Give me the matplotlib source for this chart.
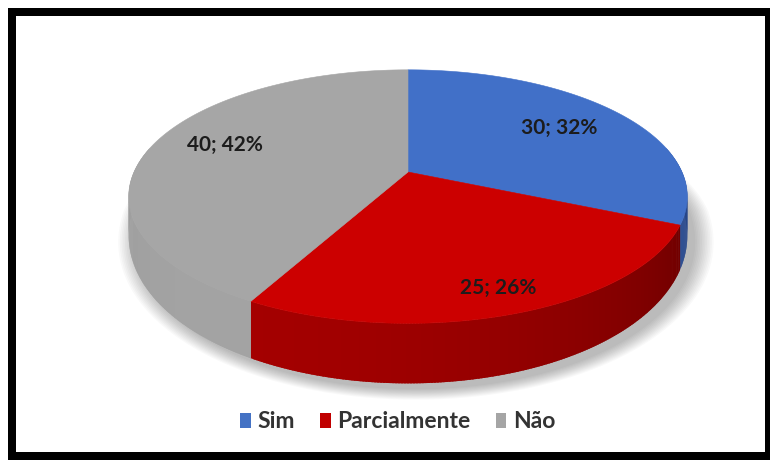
"""
3D-style pie (Sim / Parcialmente / Não) redrawn with plain matplotlib patches.
"""

import numpy as np
import matplotlib.pyplot as plt
from matplotlib.colors import to_rgb
from matplotlib.patches import Patch, Polygon, Rectangle

categories = ["Sim", "Parcialmente", "Não"]
values = [30, 25, 40]

top_colors = ["#4170c8", "#cc0000", "#a6a6a6"]
side_light = ["#3a62b0", "#a40000", "#a3a3a3"]
side_dark = ["#1f3c7c", "#500000", "#7c7c7c"]
legend_colors = ["#4472c4", "#c00000", "#a5a5a5"]

# layout, in pixels of the 770x461 output
W, H = 770, 461
CX, CY = 408, 172          # where the slices meet
SX, SY, PERSP = 274, 122, 0.194
label_px = [(559, 128), (498, 288), (225, 145)]


def project(t_deg):
    # point on the rim of a tilted disc, seen in perspective
    t = np.radians(t_deg)
    x, y = np.cos(t), np.sin(t)
    w = 1 + PERSP * y
    return CX + SX * x / w, CY - SY * y / w


def wall(t_deg):
    # height of the side wall, taller at the front
    return 34 + 26 * np.clip(-np.sin(np.radians(t_deg)), 0, 1)


def side_color(i, t):
    k = (np.cos(np.radians(t - 235)) + 1) / 2
    lo, hi = np.array(to_rgb(side_dark[i])), np.array(to_rgb(side_light[i]))
    return tuple(lo + (hi - lo) * k)


fig = plt.figure(figsize=(W / 100, H / 100), dpi=100)
ax = fig.add_axes([0, 0, 1, 1])
ax.set_xlim(0, W)
ax.set_ylim(H, 0)
ax.axis("off")

total = sum(values)
fracs = np.array(values) / total
bounds = 90 - 360 * np.concatenate([[0], np.cumsum(fracs)])

# soft shadow under the disc
rim = np.linspace(0, 360, 181)
bx, by = project(rim)
by = by + wall(rim)
mx, my = bx.mean(), by.mean()
for k in range(12):
    s = 1 + 0.006 * k
    pts = np.column_stack([mx + (bx - mx) * s + 8, my + (by - my) * s + 6])
    ax.add_patch(Polygon(pts, closed=True, facecolor="black", edgecolor="none",
                         alpha=0.022, zorder=0))

# front side walls, thin overlapping strips for the shading
for i in range(len(values)):
    t_hi, t_lo = bounds[i], bounds[i + 1]
    ts = np.linspace(t_lo, t_hi, max(int((t_hi - t_lo) * 2), 2))
    for t0, t1 in zip(ts[:-1], ts[1:]):
        tm = (t0 + t1) / 2
        if np.sin(np.radians(tm)) > 0.2:
            continue
        t1x = min(t1 + 0.4, t_hi)
        u0, v0 = project(t0)
        u1, v1 = project(t1x)
        pts = [(u0, v0), (u1, v1), (u1, v1 + wall(t1x)), (u0, v0 + wall(t0))]
        c = side_color(i, tm % 360)
        ax.add_patch(Polygon(pts, closed=True, facecolor=c, edgecolor="none",
                             lw=0, zorder=1))

# top faces
for i in range(len(values)):
    ts = np.linspace(bounds[i + 1], bounds[i], 120)
    u, v = project(ts)
    pts = np.vstack([[CX, CY], np.column_stack([u, v])])
    ax.add_patch(Polygon(pts, closed=True, facecolor=top_colors[i],
                         edgecolor=top_colors[i], lw=0.4, zorder=3))

for v, f, (lx, ly) in zip(values, fracs, label_px):
    ax.text(lx, ly, f"{v}; {round(f * 100)}%", ha="center", va="center",
            fontsize=15, fontweight="bold", color="#1c1c1c", zorder=5,
            family=["Lato", "DejaVu Sans"])

handles = [Patch(facecolor=c, edgecolor="none") for c in legend_colors]
fig.legend(handles, categories, loc="center",
           bbox_to_anchor=(398 / W, 1 - 422 / H),
           ncol=3, frameon=False, handlelength=0.45, handleheight=0.6,
           handletextpad=0.3, columnspacing=1.1, labelcolor="#333333",
           prop=dict(family=["Lato", "DejaVu Sans"], weight="bold", size=16.5))

# black frame around the chart
ax.add_patch(Rectangle((12, 12), 756.5, 444, fill=False, edgecolor="black",
                       lw=8 * 0.72, zorder=6, clip_on=False))

fig.savefig("out.png", dpi=100)
